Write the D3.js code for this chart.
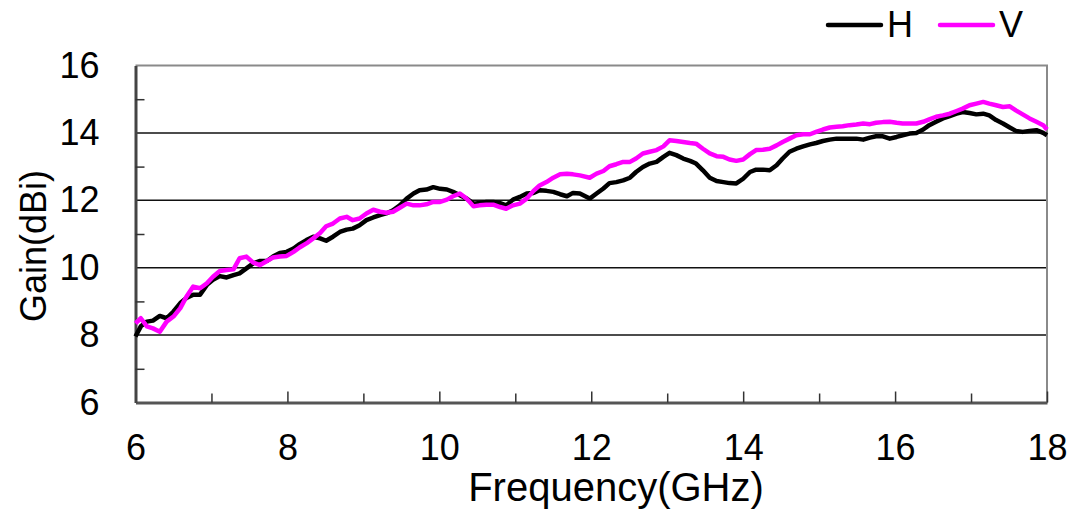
<!DOCTYPE html>
<html>
<head>
<meta charset="utf-8">
<script src="https://d3js.org/d3.v7.min.js"></script>
<style>
    body { margin: 0; background: #fff; }
    text { font-family: "Liberation Sans", Arial, sans-serif; }
</style>
</head>
<body>
<svg id="drawing_region"></svg>
<script>
// frequency samples (GHz)
const freq = [
    6.00, 6.07, 6.15, 6.23, 6.32, 6.41, 6.50, 6.59, 6.67, 6.76, 6.85, 6.94, 7.02, 7.11, 7.20, 7.29, 7.37,
    7.46, 7.55, 7.64, 7.73, 7.81, 7.90, 7.99, 8.08, 8.16, 8.25, 8.34, 8.43, 8.51, 8.60, 8.69, 8.78, 8.86,
    8.95, 9.04, 9.13, 9.22, 9.30, 9.39, 9.48, 9.57, 9.66, 9.74, 9.83, 9.92, 10.01, 10.10, 10.18, 10.27,
    10.36, 10.45, 10.53, 10.62, 10.71, 10.80, 10.88, 10.97, 11.06, 11.15, 11.24, 11.32, 11.41, 11.50,
    11.59, 11.68, 11.76,
    11.85, 11.98, 12.07, 12.16, 12.24, 12.33, 12.42, 12.51, 12.59, 12.68, 12.77, 12.86, 12.95, 13.03,
    13.12, 13.21, 13.30, 13.38, 13.47, 13.56, 13.65, 13.74, 13.82, 13.91, 14.00, 14.09, 14.17, 14.26,
    14.35, 14.44, 14.52, 14.61, 14.70, 14.79, 14.88, 14.96, 15.05, 15.14, 15.23, 15.31, 15.40, 15.49,
    15.58, 15.67, 15.75, 15.84, 15.93, 16.02, 16.10, 16.19, 16.28, 16.37, 16.45, 16.54, 16.63, 16.72,
    16.81, 16.89, 16.98, 17.07, 17.16, 17.24, 17.33, 17.42, 17.51, 17.59, 17.68, 17.77, 17.86, 17.95, 18.00
];

// gain, H polarisation (dBi)
const gainH = [
    7.96, 8.26, 8.40, 8.43, 8.57, 8.50, 8.70, 8.95, 9.10, 9.20, 9.20, 9.49, 9.64, 9.75, 9.71, 9.78, 9.83,
    9.98, 10.13, 10.20, 10.20, 10.33, 10.44, 10.47, 10.57, 10.70, 10.82, 10.92, 10.87, 10.80, 10.92, 11.06,
    11.13, 11.16, 11.26, 11.41, 11.49, 11.56, 11.61, 11.70, 11.85, 12.05, 12.20, 12.30, 12.32, 12.39, 12.34,
    12.32, 12.25, 12.15, 12.05, 11.90, 11.92, 11.95, 11.95, 11.92, 11.85, 12.02, 12.10, 12.20, 12.22, 12.30,
    12.28, 12.25, 12.18, 12.12, 12.22,
    12.20, 12.05, 12.20, 12.35, 12.51, 12.54, 12.59, 12.67, 12.84, 12.99, 13.09, 13.14, 13.29, 13.41, 13.34,
    13.24, 13.17, 13.09, 12.89, 12.67, 12.57, 12.54, 12.51, 12.50, 12.64, 12.84, 12.91, 12.91, 12.89, 13.04,
    13.24, 13.44, 13.53, 13.60, 13.66, 13.70, 13.76, 13.80, 13.83, 13.83, 13.83, 13.83, 13.80, 13.86, 13.90,
    13.90, 13.83, 13.88, 13.93, 13.98, 14.00, 14.10, 14.23, 14.33, 14.43, 14.50, 14.57, 14.62, 14.59, 14.55,
    14.57, 14.52, 14.38, 14.28, 14.16, 14.06, 14.03, 14.06, 14.08, 14.00, 13.93
];

// gain, V polarisation (dBi)
const gainV = [
    8.35, 8.50, 8.26, 8.20, 8.10, 8.40, 8.55, 8.80, 9.14, 9.44, 9.39, 9.54, 9.73, 9.90, 9.93, 9.95, 10.28,
    10.33, 10.15, 10.08, 10.20, 10.30, 10.33, 10.35, 10.47, 10.60, 10.72, 10.87, 11.03, 11.23, 11.31, 11.46,
    11.51, 11.41, 11.46, 11.61, 11.72, 11.66, 11.63, 11.66, 11.78, 11.90, 11.85, 11.85, 11.88, 11.95, 11.95,
    12.02, 12.12, 12.20, 12.05, 11.82, 11.85, 11.87, 11.87, 11.80, 11.75, 11.85, 11.90, 12.05, 12.28, 12.44,
    12.54, 12.67, 12.77, 12.79, 12.77,
    12.74, 12.67, 12.79, 12.87, 13.01, 13.07, 13.14, 13.14, 13.24, 13.39, 13.44, 13.49, 13.60, 13.78, 13.76,
    13.73, 13.70, 13.68, 13.53, 13.39, 13.31, 13.29, 13.21, 13.17, 13.21, 13.37, 13.49, 13.50, 13.53, 13.63,
    13.73, 13.83, 13.93, 13.96, 13.96, 14.03, 14.10, 14.16, 14.18, 14.20, 14.23, 14.25, 14.28, 14.26, 14.30,
    14.32, 14.33, 14.30, 14.28, 14.28, 14.28, 14.33, 14.40, 14.48, 14.52, 14.57, 14.65, 14.72, 14.82, 14.87,
    14.92, 14.87, 14.82, 14.77, 14.79, 14.67, 14.55, 14.43, 14.33, 14.23, 14.10
];

const seriesNames = ['H', 'V'];
const seriesColors = ['#000000', '#ff00ff'];
const xTicks = d3.range(6, 19, 1);
const yTicks = d3.range(6, 17, 1);

var config = {
    parent: '#drawing_region',
    width: 1068,
    height: 513,
    margin: {top: 65.5, right: 21, bottom: 110.5, left: 135.5},
    xlabel: 'Frequency(GHz)',
    ylabel: 'Gain(dBi)',
};

class LineChart {

    constructor(config, series) {
        this.config = config;
        this.series = series;
        this.init();
    }

    init() {
        let self = this;

        self.svg = d3.select(self.config.parent)
            .attr('width', self.config.width)
            .attr('height', self.config.height);

        self.inner_width = self.config.width - self.config.margin.left - self.config.margin.right;
        self.inner_height = self.config.height - self.config.margin.top - self.config.margin.bottom;

        self.chart = self.svg.append('g')
            .attr('transform', `translate(${self.config.margin.left}, ${self.config.margin.top})`);

        self.xscale = d3.scaleLinear()
            .domain([6, 18])
            .range([0, self.inner_width]);

        self.yscale = d3.scaleLinear()
            .domain([6, 16])
            .range([self.inner_height, 0]);
    }

    render() {
        let self = this;
        const w = self.inner_width, h = self.inner_height;

        // grid lines at even gain values
        self.chart.append('g')
            .selectAll('line')
            .data(yTicks.filter(d => d % 2 == 0 && d > 6 && d < 16))
            .enter()
            .append('line')
            .attr('x1', 0)
            .attr('x2', w)
            .attr('y1', d => self.yscale(d))
            .attr('y2', d => self.yscale(d))
            .attr('stroke', '#111')
            .attr('stroke-width', 1.5);

        // top and right frame
        self.chart.append('path')
            .attr('d', `M0,0H${w}V${h}`)
            .attr('fill', 'none')
            .attr('stroke', '#8a8a8a')
            .attr('stroke-width', 2);

        // x axis, ticks pointing inside
        const xaxis = d3.axisBottom(self.xscale)
            .tickValues(xTicks)
            .tickSizeInner(-10)
            .tickSizeOuter(0)
            .tickPadding(32)
            .tickFormat(d => d % 2 == 0 ? d : '');

        const xg = self.chart.append('g')
            .attr('transform', `translate(0, ${h})`)
            .call(xaxis);
        xg.select('.domain').attr('stroke', '#555').attr('stroke-width', 3);
        xg.selectAll('.tick line').attr('stroke', '#333').attr('stroke-width', 1.5)
            .attr('y2', d => d % 2 == 0 ? -11 : -9);
        xg.selectAll('.tick text').attr('font-size', '36px').attr('fill', '#000')
            .attr('font-family', '"Liberation Sans", Arial, sans-serif');

        // y axis, ticks pointing inside at odd values
        const yaxis = d3.axisLeft(self.yscale)
            .tickValues(yTicks)
            .tickSizeInner(-9)
            .tickSizeOuter(0)
            .tickPadding(36)
            .tickFormat(d => d % 2 == 0 ? d : '');

        const yg = self.chart.append('g')
            .call(yaxis);
        yg.select('.domain').attr('stroke', '#444').attr('stroke-width', 3);
        yg.selectAll('.tick line').attr('stroke', '#333').attr('stroke-width', 1.5)
            .attr('x2', d => d % 2 == 0 ? 0 : 9);
        yg.selectAll('.tick text').attr('font-size', '36px').attr('fill', '#000')
            .attr('font-family', '"Liberation Sans", Arial, sans-serif');

        // curves
        const line = d3.line()
            .x((d, i) => self.xscale(freq[i]))
            .y(d => self.yscale(d));

        self.chart.selectAll('.curve')
            .data(self.series)
            .enter()
            .append('path')
            .attr('class', 'curve')
            .attr('d', d => line(d.values))
            .attr('fill', 'none')
            .attr('stroke', d => d.color)
            .attr('stroke-width', 4.5)
            .attr('stroke-linejoin', 'round');

        // axis titles
        self.svg.append('text')
            .attr('x', 616)
            .attr('y', 501)
            .attr('text-anchor', 'middle')
            .attr('font-size', '40px')
            .text(self.config.xlabel);

        self.svg.append('text')
            .attr('transform', `translate(46, 246) rotate(-90)`)
            .attr('text-anchor', 'middle')
            .attr('font-size', '36px')
            .text(self.config.ylabel);

        // legend
        const legend = self.svg.append('g');
        const lx = [828, 940];
        self.series.forEach((s, i) => {
            legend.append('line')
                .attr('x1', lx[i]).attr('x2', lx[i] + 53)
                .attr('y1', 25).attr('y2', 25)
                .attr('stroke', s.color)
                .attr('stroke-width', 4.5)
                .attr('stroke-linecap', 'round');
            legend.append('text')
                .attr('x', lx[i] + 59)
                .attr('y', 37)
                .attr('font-size', '36px')
                .text(s.name);
        });
    }
}

const series = seriesNames.map((n, i) => ({
    name: n,
    color: seriesColors[i],
    values: i == 0 ? gainH : gainV
}));

let chart = new LineChart(config, series);
chart.render();
</script>
</body>
</html>
